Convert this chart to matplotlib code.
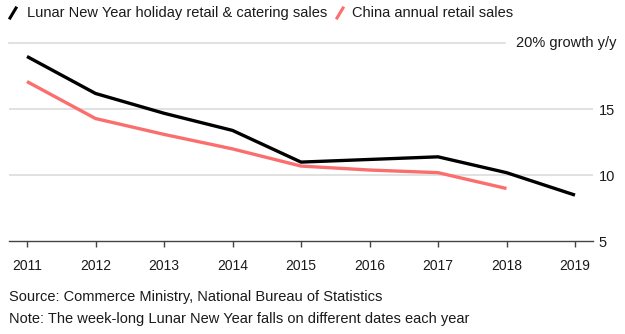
import matplotlib
matplotlib.use("Agg")
import matplotlib.pyplot as plt
from matplotlib.lines import Line2D

years = [2011, 2012, 2013, 2014, 2015, 2016, 2017, 2018, 2019]
lunar_sales = [19.0, 16.2, 14.7, 13.4, 11.0, 11.2, 11.4, 10.2, 8.5]
china_years = [2011, 2012, 2013, 2014, 2015, 2016, 2017, 2018]
china_sales = [17.1, 14.3, 13.1, 12.0, 10.7, 10.4, 10.2, 9.0]
y_ticks = [5, 10, 15]
y_tick_labels = ["5", "10", "15"]
legend_labels = ["Lunar New Year holiday retail & catering sales", "China annual retail sales"]
top_label = "20% growth y/y"

plt.rcParams['font.family'] = ['Liberation Sans', 'DejaVu Sans']
W, H = 625, 334
fig = plt.figure(figsize=(W / 100, H / 100), dpi=100)

left, right = 9, 593
top, bottom = 43.3, 241.3
ax = fig.add_axes([left / W, 1 - bottom / H, (right - left) / W, (bottom - top) / H])

x0, x1 = 27, 575
ppy = (x1 - x0) / 8
ax.set_xlim(2011 - (x0 - left) / ppy, 2019 + (right - x1) / ppy)
ax.set_ylim(5, 20)

grid_c = '#dcdcdc'
for v in [10, 15]:
    ax.axhline(v, color=grid_c, lw=1.2, zorder=1)
ax.axhline(20, xmin=0, xmax=(505 - left) / (right - left), color=grid_c, lw=1.2, zorder=1, clip_on=False)

pink = '#fb6e6e'
ax.plot(china_years, china_sales, color=pink, lw=2.4, zorder=3, solid_capstyle='butt')
ax.plot(years, lunar_sales, color='black', lw=2.4, zorder=4, solid_capstyle='butt')

for s in ['top', 'right', 'left']:
    ax.spines[s].set_visible(False)
ax.spines['bottom'].set_color('#444444')
ax.spines['bottom'].set_linewidth(1.0)

txt_c = '#1a1a1a'
ax.set_xticks(years)
ax.set_xticklabels([str(y) for y in years])
ax.tick_params(axis='x', direction='out', length=4, width=1, color='#444444', pad=9,
               labelsize=10, labelcolor=txt_c)
ax.yaxis.tick_right()
ax.set_yticks(y_ticks)
ax.set_yticklabels(y_tick_labels)
ax.tick_params(axis='y', length=0, pad=4, labelsize=10.5, labelcolor=txt_c)
for lab in ax.get_yticklabels():
    lab.set_horizontalalignment('left')

fig.text(516 / W, 1 - 43.3 / H, top_label, ha='left', va='center', fontsize=10.5, color=txt_c)

# Legend
def slash(xa, color):
    fig.add_artist(Line2D([xa / W, (xa + 6) / W], [1 - 18 / H, 1 - 8 / H],
                          transform=fig.transFigure, color=color, lw=2.2))
slash(10, 'black')
fig.text(27 / W, 1 - 13 / H, legend_labels[0], ha='left', va='center', fontsize=10.5, color=txt_c)
slash(337, pink)
fig.text(352 / W, 1 - 13 / H, legend_labels[1], ha='left', va='center', fontsize=10.5, color=txt_c)

fig.text(9 / W, 1 - 297 / H, "Source: Commerce Ministry, National Bureau of Statistics",
         ha='left', va='center', fontsize=10.5, color=txt_c)
fig.text(9 / W, 1 - 319 / H, "Note: The week-long Lunar New Year falls on different dates each year",
         ha='left', va='center', fontsize=10.5, color=txt_c)

fig.savefig('out.png', dpi=100)
